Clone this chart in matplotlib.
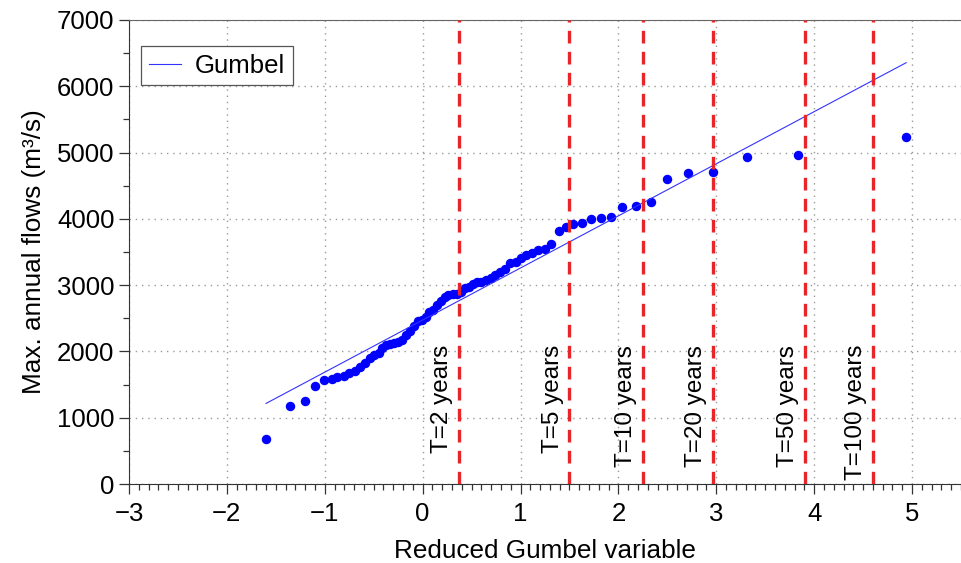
import matplotlib
matplotlib.use("Agg")
import matplotlib.pyplot as plt
from matplotlib.ticker import MultipleLocator

plt.rcParams['font.family'] = ['Liberation Sans', 'DejaVu Sans']

# reduced Gumbel variable of each observation (sorted)
reduced = [-1.60, -1.35, -1.20, -1.10, -1.01, -0.93, -0.87, -0.80, -0.75, -0.69,
           -0.64, -0.59, -0.54, -0.50, -0.45, -0.41, -0.37, -0.33, -0.29, -0.25,
           -0.21, -0.17, -0.13, -0.09, -0.05, -0.01, 0.03, 0.07, 0.11, 0.15,
           0.19, 0.23, 0.26, 0.31, 0.35, 0.39, 0.43, 0.47, 0.51, 0.56,
           0.60, 0.65, 0.70, 0.74, 0.79, 0.84, 0.89, 0.95, 1.00, 1.06,
           1.12, 1.18, 1.25, 1.31, 1.39, 1.46, 1.54, 1.63, 1.72, 1.82,
           1.92, 2.04, 2.18, 2.33, 2.50, 2.71, 2.97, 3.31, 3.83, 4.94]
# max annual flows (m3/s), ascending
flows = [680, 1180, 1250, 1480, 1570, 1580, 1610, 1630, 1680, 1700,
         1770, 1830, 1900, 1950, 1980, 2050, 2100, 2110, 2130, 2140,
         2170, 2250, 2310, 2380, 2460, 2480, 2520, 2600, 2630, 2700,
         2760, 2820, 2850, 2860, 2870, 2890, 2950, 2975, 3010, 3040,
         3050, 3080, 3110, 3160, 3200, 3250, 3335, 3350, 3410, 3455,
         3485, 3530, 3550, 3620, 3820, 3880, 3920, 3940, 4000, 4010,
         4030, 4180, 4190, 4250, 4600, 4690, 4700, 4930, 4960, 5240]

# fitted Gumbel: Q = loc + scale * y
gumbel_loc = 2473
gumbel_scale = 786

return_periods = [2, 5, 10, 20, 50, 100]
return_reduced = [0.367, 1.500, 2.250, 2.970, 3.902, 4.600]

fig = plt.figure(figsize=(9.61, 5.63), dpi=100)
ax = fig.add_axes([0.1342, 0.1403, 0.8658, 0.8242])

ax.grid(True, which='major', linestyle=(0, (1, 3.5)), color='#9a9a9a', linewidth=1.0)
ax.set_axisbelow(True)

ax.plot(reduced, flows, 'o', color='#0000ff', markersize=5.8, zorder=3)

fit_x = [reduced[0], reduced[-1]]
fit_y = [gumbel_loc + gumbel_scale * v for v in fit_x]
ax.plot(fit_x, fit_y, color='#3333ff', linewidth=0.8, label='Gumbel', zorder=4)

for T, yT in zip(return_periods, return_reduced):
    ax.axvline(yT, color='#e8262a', linewidth=2.4, linestyle=(0, (3.8, 2.5)), zorder=5)
    ax.text(yT - 0.06, 2100, 'T=%d years' % T, rotation=90, ha='right', va='top',
            fontsize=17.5)

ax.set_xlim(-3, 5.5)
ax.set_ylim(0, 7000)
ax.xaxis.set_major_locator(MultipleLocator(1))
ax.xaxis.set_minor_locator(MultipleLocator(0.1))
ax.yaxis.set_major_locator(MultipleLocator(1000))
ax.yaxis.set_minor_locator(MultipleLocator(500))
ax.tick_params(which='both', direction='out', colors='#333333', labelcolor='black',
               labelsize=18.5, width=0.9)
ax.tick_params(which='major', length=7)
ax.tick_params(which='minor', length=4.5)
ax.tick_params(axis='x', pad=6)

for side in ['left', 'bottom']:
    ax.spines[side].set_color('#333333')
ax.spines['top'].set_color('#666666')
ax.spines['right'].set_visible(False)

ax.set_xlabel('Reduced Gumbel variable', fontsize=18.8, labelpad=9)
ax.set_ylabel('Max. annual flows (m³/s)', fontsize=18.8, labelpad=8)

leg = ax.legend(loc='upper left', bbox_to_anchor=(0.0144, 0.944), borderaxespad=0,
                fontsize=18.5, fancybox=False, edgecolor='#555555', framealpha=1,
                handlelength=1.25, handletextpad=0.55, borderpad=0.3)
leg.get_frame().set_linewidth(0.9)

fig.savefig('out.png', dpi=100)
